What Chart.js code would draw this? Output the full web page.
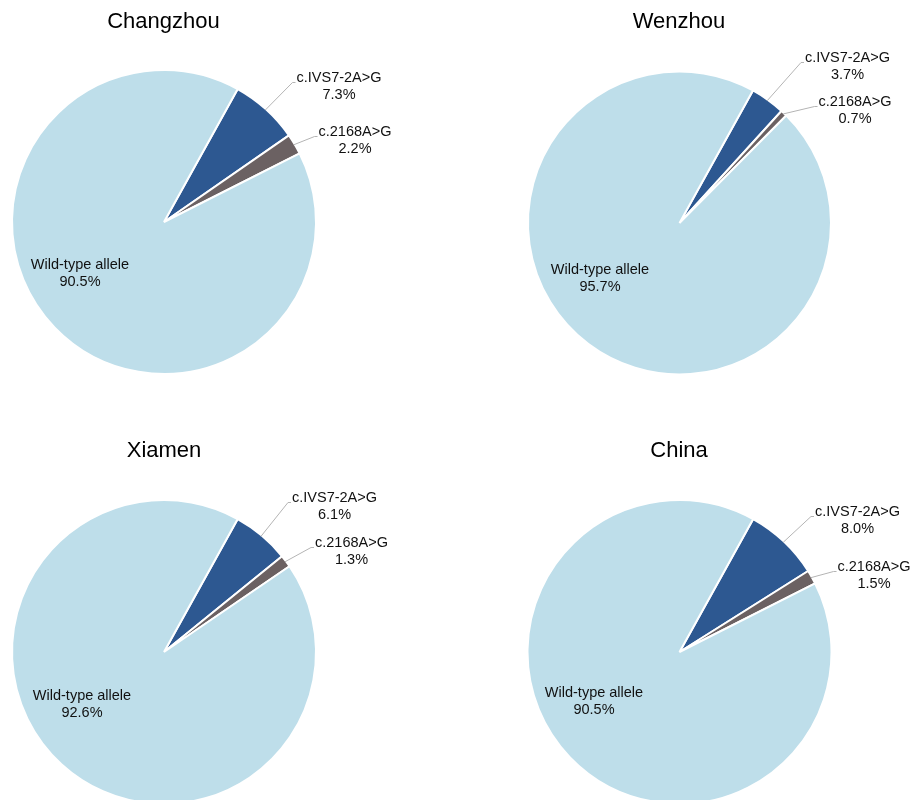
<!DOCTYPE html>
<html>
<head>
<meta charset="utf-8">
<script src="https://cdn.jsdelivr.net/npm/chart.js@4.4.1/dist/chart.umd.min.js"></script>
<style>
html, body { margin: 0; padding: 0; background: #fff; width: 916px; height: 800px; overflow: hidden; }
.cell { position: absolute; width: 458px; height: 410px; }
</style>
</head>
<body>
<div class="cell" style="left:0;top:0"><canvas id="c0" width="458" height="410"></canvas></div>
<div class="cell" style="left:458px;top:0"><canvas id="c1" width="458" height="410"></canvas></div>
<div class="cell" style="left:0;top:400px"><canvas id="c2" width="458" height="410"></canvas></div>
<div class="cell" style="left:458px;top:400px"><canvas id="c3" width="458" height="410"></canvas></div>
<script>
// data (percent of alleles)
const regions = ['Changzhou', 'Wenzhou', 'Xiamen', 'China'];
const alleles = ['c.IVS7-2A>G', 'c.2168A>G', 'Wild-type allele'];
const changzhou = [7.3, 2.2, 90.5];
const wenzhou = [3.7, 0.7, 95.7];
const xiamen = [6.1, 1.3, 92.6];
const china = [8.0, 1.5, 90.5];
const values = [changzhou, wenzhou, xiamen, china];

const colors = ['#2D5891', '#6B6162', '#BEDEEA'];
const font = '"Liberation Sans", Arial, sans-serif';

// placement of each panel (page coordinates)
const panels = [
    { left: 0, top: 0, cx: 164, cy: 222, r: 152, title: [163.5, 27.5],
      labels: [[339, 78], [355, 132], [80, 265]] },
    { left: 458, top: 0, cx: 679.5, cy: 223, r: 151.5, title: [679, 27.5],
      labels: [[847.5, 58], [855, 102], [600, 270]] },
    { left: 0, top: 400, cx: 164, cy: 652, r: 152, title: [164, 457],
      labels: [[334.5, 498], [351.5, 543], [82, 696]] },
    { left: 458, top: 400, cx: 679.5, cy: 652, r: 152, title: [679, 456.5],
      labels: [[857.5, 512], [874, 567], [594, 693]] },
];

const labelPlugin = {
    id: 'pieLabels',
    afterDatasetsDraw(chart, args, opts) {
        const ctx = chart.ctx;
        const p = opts.panel;
        const meta = chart.getDatasetMeta(0);
        const data = chart.data.datasets[0].data;
        ctx.save();
        // title
        ctx.fillStyle = '#000';
        ctx.font = '22px ' + font;
        ctx.textAlign = 'center';
        ctx.textBaseline = 'alphabetic';
        ctx.fillText(opts.title, p.title[0] - p.left, p.title[1] - p.top);

        ctx.font = '14.5px ' + font;
        ctx.textBaseline = 'middle';
        meta.data.forEach((arc, i) => {
            const lx = p.labels[i][0] - p.left;
            const ly = p.labels[i][1] - p.top;
            const name = chart.data.labels[i];
            const pct = data[i].toFixed(1) + '%';
            ctx.fillStyle = '#111';
            ctx.fillText(name, lx, ly);
            ctx.fillText(pct, lx, ly + 17);
            if (i < 2) {
                const w = Math.max(ctx.measureText(name).width, ctx.measureText(pct).width);
                const left = lx - w / 2;
                const mid = (arc.startAngle + arc.endAngle) / 2;
                const sx = arc.x + Math.cos(mid) * (arc.outerRadius - 1);
                const sy = arc.y + Math.sin(mid) * (arc.outerRadius - 1);
                ctx.strokeStyle = '#B4B4B4';
                ctx.lineWidth = 1;
                ctx.beginPath();
                ctx.moveTo(sx, sy);
                ctx.lineTo(left - 4, ly + 4.5);
                ctx.lineTo(left - 1, ly + 4.5);
                ctx.stroke();
            }
        });
        ctx.restore();
    }
};

regions.forEach((name, k) => {
    const p = panels[k];
    const cx = p.cx - p.left, cy = p.cy - p.top;
    const W = 458, H = 410;
    new Chart(document.getElementById('c' + k), {
        type: 'pie',
        data: {
            labels: alleles,
            datasets: [{
                data: values[k],
                backgroundColor: colors,
                borderColor: '#ffffff',
                borderWidth: 2,
            }]
        },
        options: {
            responsive: false,
            animation: false,
            events: [],
            rotation: 29,
            radius: p.r,
            layout: {
                padding: { left: cx - p.r, right: W - cx - p.r, top: cy - p.r, bottom: H - cy - p.r }
            },
            plugins: {
                legend: { display: false },
                title: { display: false },
                tooltip: { enabled: false },
                pieLabels: { panel: p, title: name }
            }
        },
        plugins: [labelPlugin]
    });
});
</script>
</body>
</html>
